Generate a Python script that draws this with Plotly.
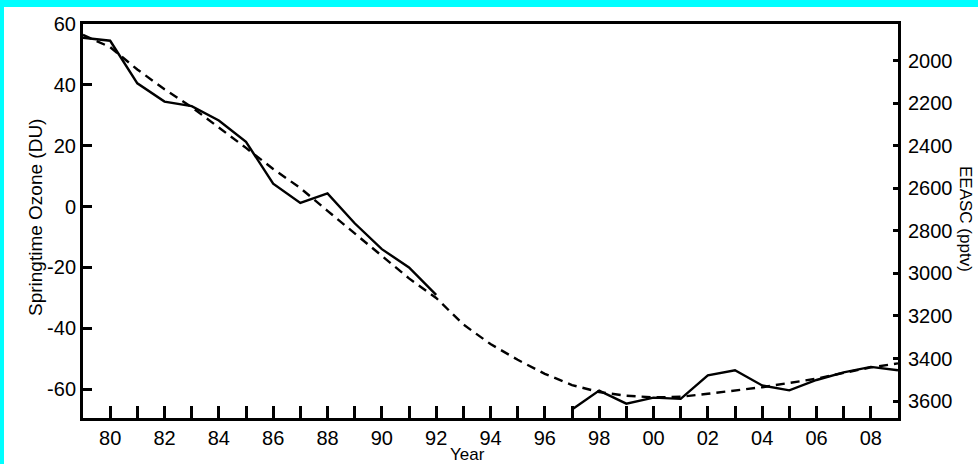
import plotly.graph_objects as go

years = list(range(1979, 2010))

# Springtime ozone anomaly (DU), solid line; gap 1993-1996
ozone = [55.5, 54.5, 40.5, 34.5, 33.0, 28.3, 21.3, 7.5, 1.2, 4.3,
         -5.5, -14.0, -20.0, -29.0,
         None, None, None, None,
         -66.7, -60.5, -64.8, -62.8, -63.2, -55.5, -53.8, -58.8,
         -60.4, -57.0, -54.5, -52.7, -53.8]

# EEASC (pptv), dashed line, right axis (reversed)
eeasc = [1877, 1935, 2040, 2133, 2217, 2312, 2409, 2508, 2598, 2705,
         2812, 2918, 3023, 3115, 3240, 3332, 3406, 3472, 3525, 3558,
         3575, 3583, 3580, 3566, 3552, 3535, 3515, 3495, 3468, 3442, 3423]

x_tickvals = list(range(1980, 2009))
x_ticktext = [("%02d" % (y % 100)) if y % 2 == 0 else "" for y in x_tickvals]
y_tickvals = [-60, -40, -20, 0, 20, 40, 60]
y_ticktext = ["-60", "-40", "-20", "0", "20", "40", "60"]
y2_tickvals = [2000, 2200, 2400, 2600, 2800, 3000, 3200, 3400, 3600]

FONT = "Liberation Sans, Arial, sans-serif"

fig = go.Figure()
fig.add_trace(go.Scatter(x=years, y=ozone, mode="lines", connectgaps=False,
                         line=dict(color="black", width=2.4), yaxis="y",
                         showlegend=False))
fig.add_trace(go.Scatter(x=years, y=eeasc, mode="lines",
                         line=dict(color="black", width=2.4, dash="9px,6px"),
                         yaxis="y2", showlegend=False))

W, H = 978, 464
L, R, T, B = 83, 80, 24, 46
pw, ph = W - L - R, H - T - B

def px_x(p):
    return (p - L) / pw

def px_y(p):
    return 1 - (p - T) / ph

fig.update_layout(
    width=W, height=H,
    margin=dict(l=L, r=R, t=T, b=B, pad=0),
    paper_bgcolor="white", plot_bgcolor="white",
    font=dict(family=FONT, size=20, color="black"),
    xaxis=dict(range=[1979, 2009], tickmode="array", tickvals=x_tickvals,
               ticktext=x_ticktext, ticks="inside", ticklen=12, tickwidth=3,
               tickcolor="black", showline=True, linewidth=3, linecolor="black",
               mirror=True, showgrid=False, zeroline=False,
               ticklabelstandoff=0, tickfont=dict(size=20)),
    yaxis=dict(range=[-69.5, 60], tickmode="array", tickvals=y_tickvals,
               ticktext=y_ticktext,
               ticks="inside", ticklen=9, tickwidth=3, tickcolor="black",
               showline=True, linewidth=3, linecolor="black",
               showgrid=False, zeroline=False, ticklabelstandoff=0,
               tickfont=dict(size=20)),
    yaxis2=dict(range=[3680, 1826], overlaying="y", side="right",
                tickmode="array", tickvals=y2_tickvals,
                ticks="inside", ticklen=5, tickwidth=3, tickcolor="black",
                showline=True, linewidth=3, linecolor="black",
                showgrid=False, zeroline=False, ticklabelstandoff=3,
                tickfont=dict(size=20)),
    shapes=[
        dict(type="rect", xref="paper", yref="paper", x0=px_x(0), x1=px_x(W),
             y0=px_y(7), y1=px_y(0), fillcolor="#00FFFF", line=dict(width=0),
             layer="below"),
        dict(type="rect", xref="paper", yref="paper", x0=px_x(0), x1=px_x(4),
             y0=px_y(H), y1=px_y(0), fillcolor="#00FFFF", line=dict(width=0),
             layer="below"),
    ],
    annotations=[
        dict(text="Springtime Ozone (DU)", xref="paper", yref="paper",
             x=px_x(35), y=px_y(218), textangle=-90, showarrow=False,
             font=dict(size=19), xanchor="center", yanchor="middle"),
        dict(text="EEASC (pptv)", xref="paper", yref="paper",
             x=px_x(966), y=px_y(219), textangle=90, showarrow=False,
             font=dict(size=17), xanchor="center", yanchor="middle"),
        dict(text="Year", xref="paper", yref="paper",
             x=px_x(467), y=px_y(455), showarrow=False,
             font=dict(size=17), xanchor="center", yanchor="middle"),
    ],
)

fig.write_html("out.html", config={"displayModeBar": False},
               post_script="document.body.style.margin='0';document.body.style.overflow='hidden';")
